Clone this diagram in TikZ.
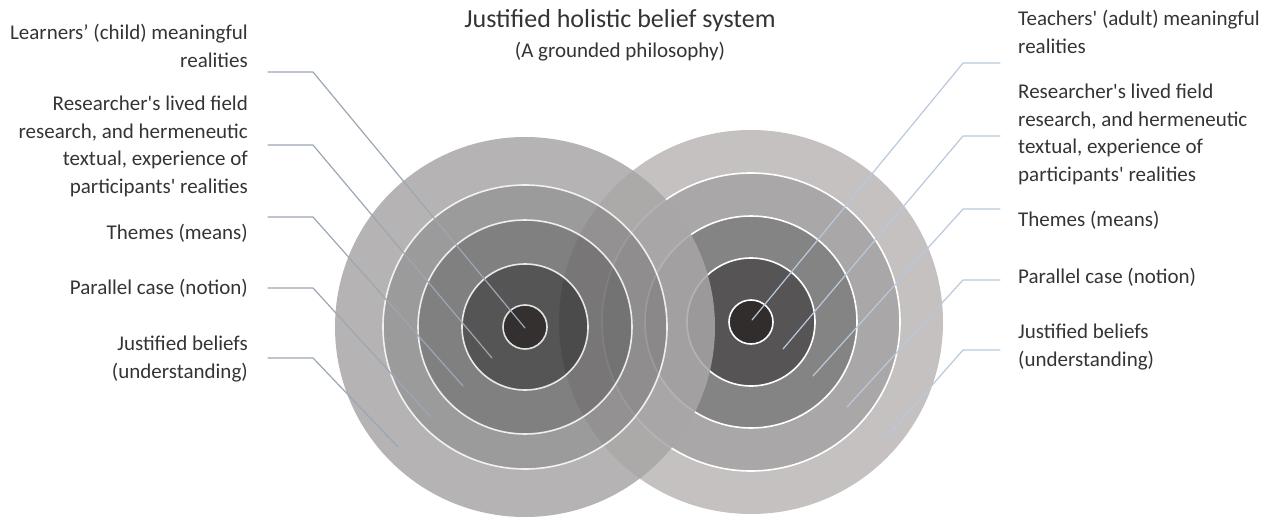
\documentclass[tikz,border=0pt]{standalone}
\usepackage{fontspec}
\setmainfont{Carlito}
\begin{document}
\begin{tikzpicture}[x=1pt, y=-1pt, line cap=round, line join=round]
  \definecolor{inkgray}{RGB}{52,52,52}
  \definecolor{leadleft}{RGB}{156,166,180}
  \definecolor{leadright}{RGB}{185,201,221}
  \definecolor{lcA}{RGB}{168,166,166}
  \definecolor{lcB}{RGB}{139,137,137}
  \definecolor{lcC}{RGB}{107,106,106}
  \definecolor{lcD}{RGB}{56,55,55}
  \definecolor{lcE}{RGB}{16,12,12}
  \definecolor{rcA}{RGB}{196,193,192}
  \definecolor{rcB}{RGB}{169,167,167}
  \definecolor{rcC}{RGB}{133,132,132}
  \definecolor{rcD}{RGB}{86,84,84}
  \definecolor{rcE}{RGB}{49,45,45}
  \tikzset{
    lbl/.style={inner sep=0pt, text=inkgray, font=\fontsize{21}{27.5}\selectfont},
    ringline/.style={draw=white, line width=1.6pt},
    leadL/.style={draw=leadleft, line width=1.2pt},
    leadR/.style={draw=leadright, line width=1.2pt}
  }
  \useasboundingbox (0,0) rectangle (1277,524);

  % targets
  \coordinate (lc) at (525,327);
  \coordinate (rc) at (751,322);
  \foreach \ro/\ri/\col in {192/149/rcA, 149/106/rcB, 106/64/rcC, 64/22/rcD}
    \fill[\col, even odd rule] (rc) circle (\ro pt) circle (\ri pt);
  \fill[rcE] (rc) circle (22pt);
  \foreach \r in {149,106,64,22}
    \draw[ringline] (rc) circle (\r pt);
  \foreach \ro/\ri/\col in {190/142/lcA, 142/107/lcB, 107/63/lcC, 63/22/lcD}
    \fill[\col, even odd rule, fill opacity=0.85] (lc) circle (\ro pt) circle (\ri pt);
  \fill[lcE, fill opacity=0.85] (lc) circle (22pt);
  \foreach \r in {142,107,63,22}
    \draw[ringline, draw opacity=0.85] (lc) circle (\r pt);

  % title
  \node[lbl, font=\fontsize{26}{30}\selectfont, anchor=base] (title) at (620,28) {Justified holistic belief system};
  \node[lbl, anchor=base] (subtitle) at (620,58) {(A grounded philosophy)};

  % left labels
  \node[lbl, align=right, anchor=north east] (learn) at (248,24) {Learners’ (child) meaningful\\realities};
  \node[lbl, align=right, anchor=north east] (reslft) at (248,96) {Researcher\textquotesingle s lived field\\research, and hermeneutic\\textual, experience of\\participants\textquotesingle\ realities};
  \node[lbl, align=right, anchor=north east] (themlft) at (248,224) {Themes (means)};
  \node[lbl, align=right, anchor=north east] (parlft) at (248,279) {Parallel case (notion)};
  \node[lbl, align=right, anchor=north east] (juslft) at (248,336) {Justified beliefs\\(understanding)};

  % right labels
  \node[lbl, align=left, anchor=north west] (teach) at (1018,10) {Teachers\textquotesingle\ (adult) meaningful\\realities};
  \node[lbl, align=left, anchor=north west] (resrgt) at (1018,84) {Researcher\textquotesingle s lived field\\research, and hermeneutic\\textual, experience of\\participants\textquotesingle\ realities};
  \node[lbl, align=left, anchor=north west] (themrgt) at (1018,211) {Themes (means)};
  \node[lbl, align=left, anchor=north west] (parrgt) at (1018,268) {Parallel case (notion)};
  \node[lbl, align=left, anchor=north west] (jusrgt) at (1018,324) {Justified beliefs\\(understanding)};

  % leaders
  \foreach \i/\y/\ex/\ey in {1/72/525/328, 2/145/492/358, 3/217/463/386, 4/288/431/417, 5/358/398/447} {
    \coordinate (ls\i) at (268,\y);
    \coordinate (le\i) at (\ex,\ey);
    \draw[leadL] (ls\i) -- ++(45,0) -- (le\i);
  }
  \foreach \i/\y/\ex/\ey in {1/63/752/320, 2/136/783/349, 3/209/813/376, 4/280/847/407, 5/350/884/440} {
    \coordinate (rs\i) at (1000,\y);
    \coordinate (re\i) at (\ex,\ey);
    \draw[leadR] (rs\i) -- ++(-37,0) -- (re\i);
  }
\end{tikzpicture}
\end{document}
